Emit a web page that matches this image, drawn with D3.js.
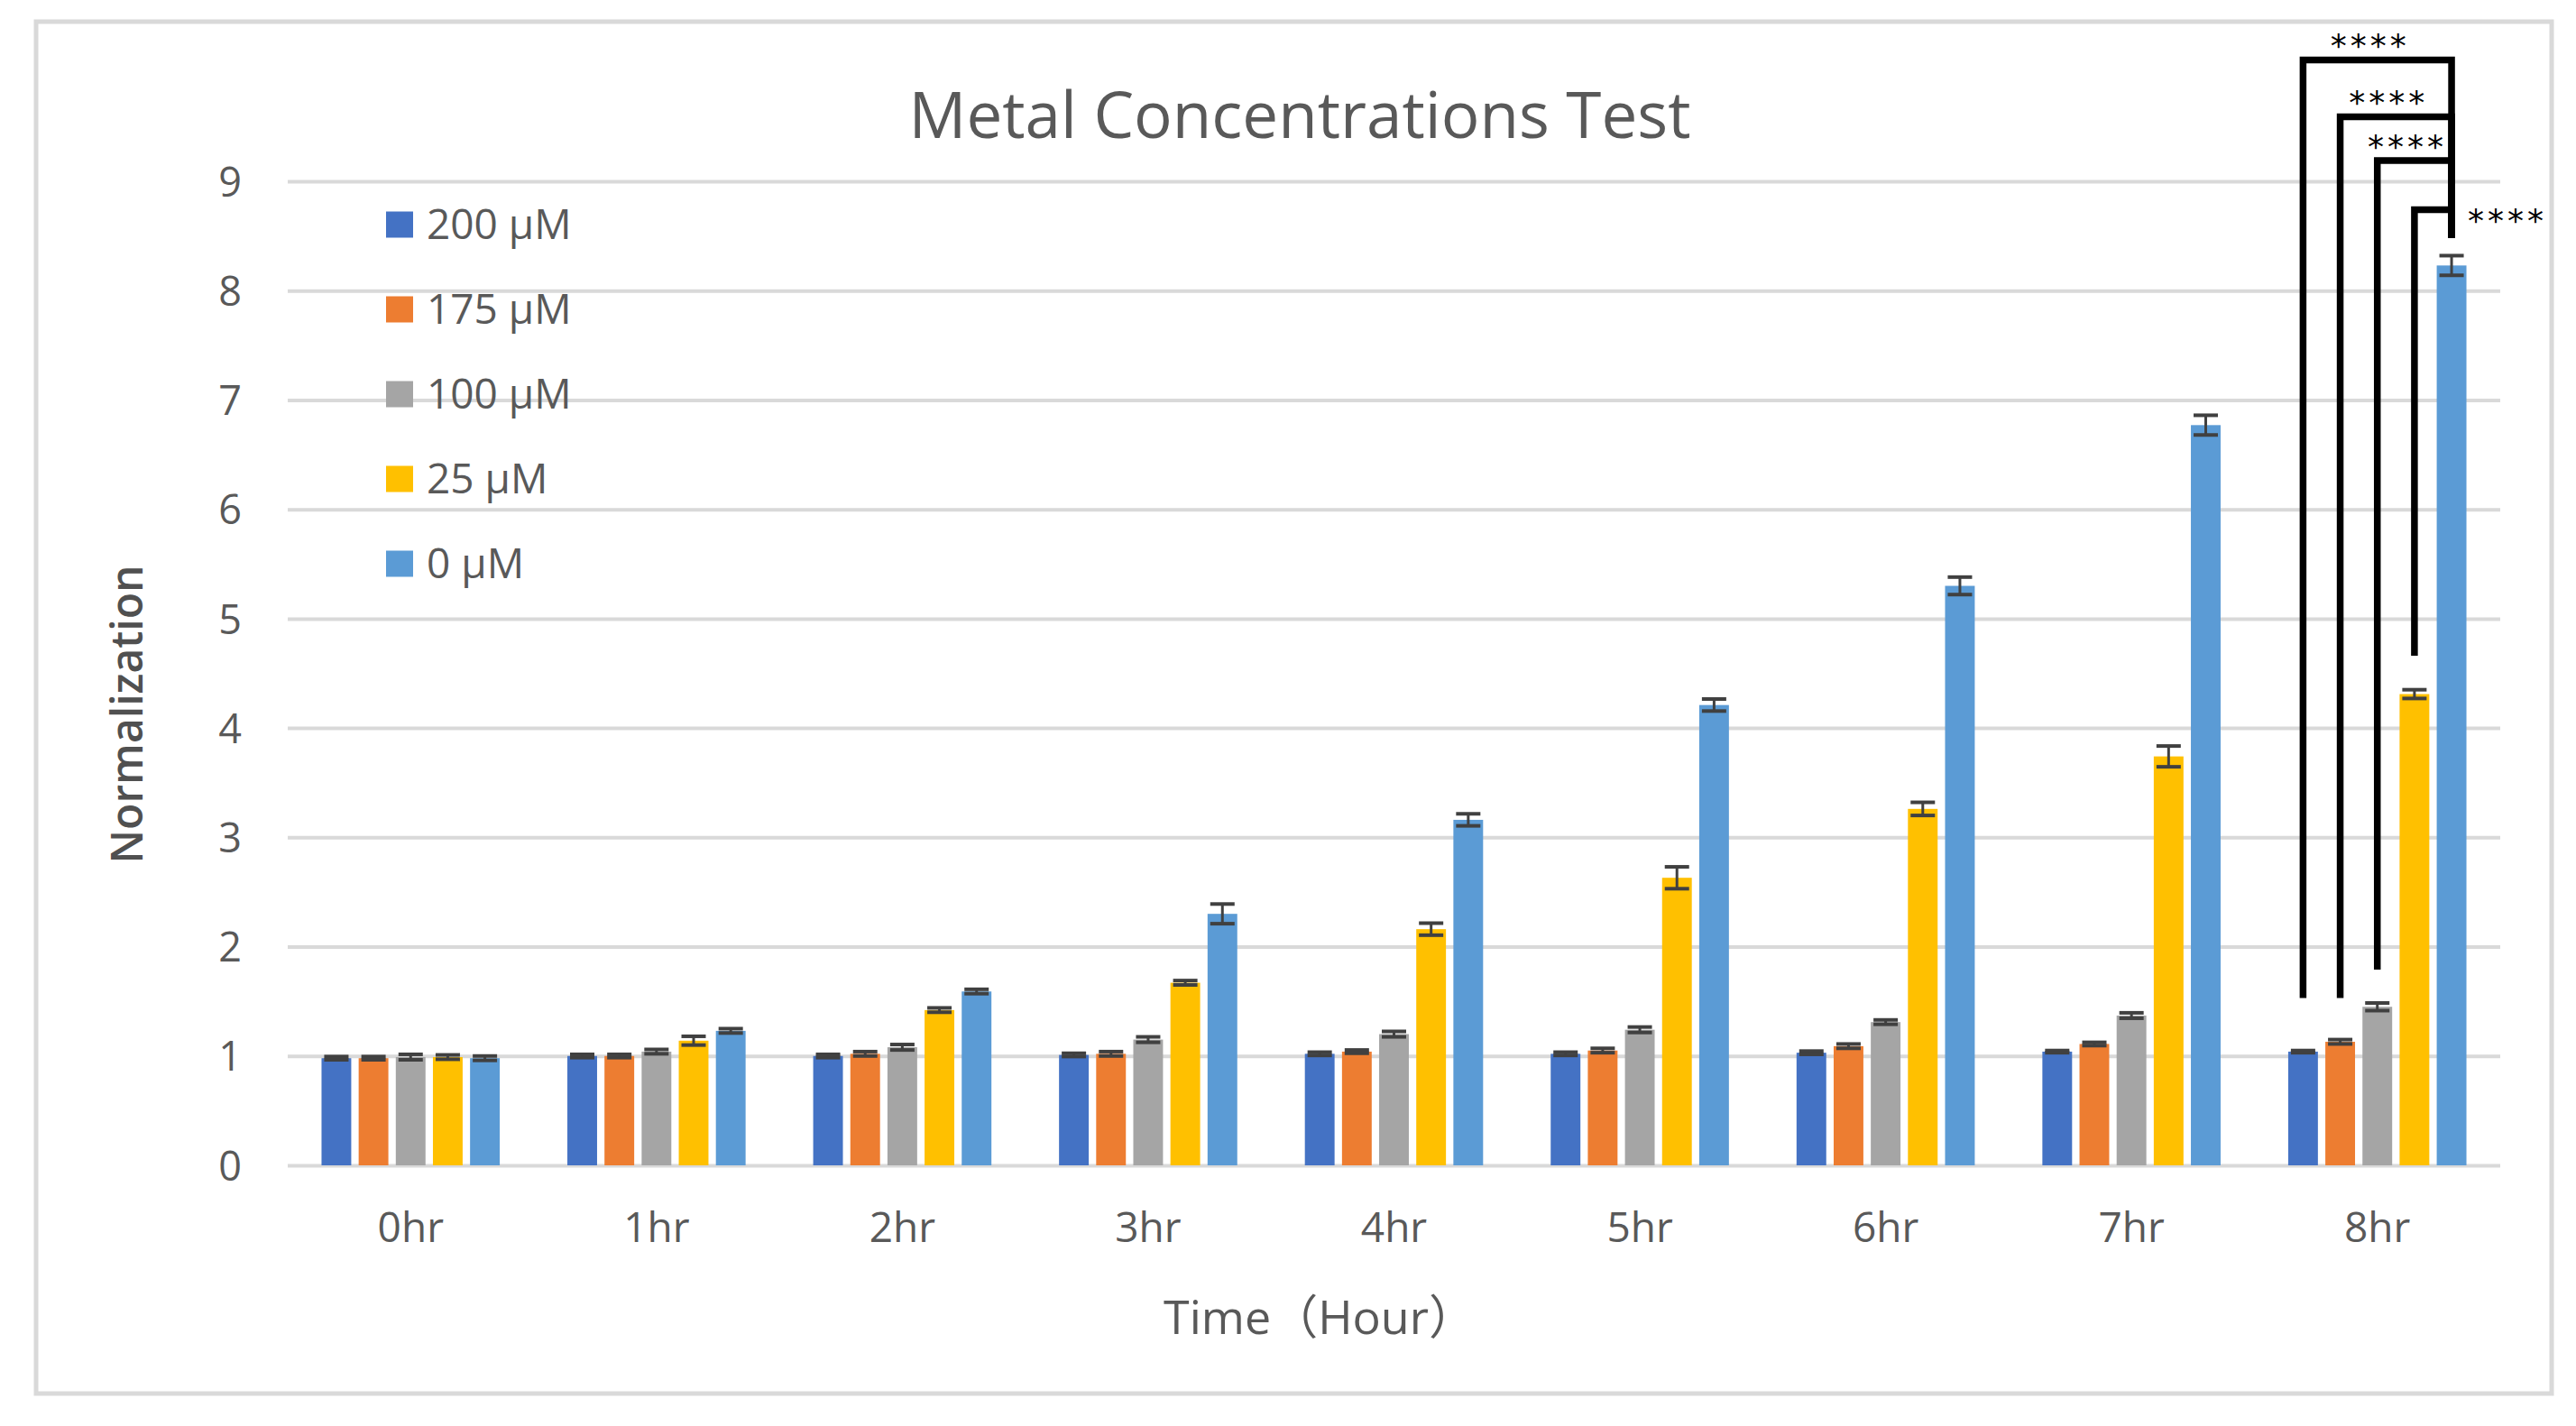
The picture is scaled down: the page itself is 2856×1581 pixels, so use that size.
<!DOCTYPE html>
<html>
<head>
<meta charset="utf-8">
<script src="https://cdn.jsdelivr.net/npm/d3@7"></script>
<style>
  html, body { margin: 0; padding: 0; background: #ffffff; }
  svg { display: block; }
</style>
</head>
<body>
<svg id="chart" width="2856" height="1581"></svg>
<script>
// ---------------- data ----------------
const categories = ["0hr", "1hr", "2hr", "3hr", "4hr", "5hr", "6hr", "7hr", "8hr"];
const seriesNames = ["200 μM", "175 μM", "100 μM", "25 μM", "0 μM"];
const seriesColors = ["#4472C4", "#ED7D31", "#A5A5A5", "#FFC000", "#5B9BD5"];

const values200 = [0.98, 1.00, 1.00, 1.01, 1.02, 1.02, 1.03, 1.04, 1.04];
const values175 = [0.98, 1.00, 1.02, 1.02, 1.04, 1.05, 1.09, 1.11, 1.13];
const values100 = [0.99, 1.04, 1.08, 1.15, 1.20, 1.24, 1.31, 1.37, 1.45];
const values25  = [0.99, 1.14, 1.42, 1.67, 2.16, 2.63, 3.26, 3.74, 4.31];
const values0   = [0.98, 1.23, 1.59, 2.30, 3.16, 4.21, 5.30, 6.77, 8.23];

const err200 = [0.015, 0.015, 0.015, 0.015, 0.015, 0.015, 0.015, 0.01, 0.01];
const err175 = [0.015, 0.015, 0.02, 0.02, 0.015, 0.02, 0.02, 0.015, 0.02];
const err100 = [0.025, 0.02, 0.025, 0.025, 0.025, 0.025, 0.02, 0.025, 0.035];
const err25  = [0.02, 0.04, 0.02, 0.02, 0.055, 0.10, 0.06, 0.095, 0.04];
const err0   = [0.02, 0.02, 0.02, 0.09, 0.055, 0.055, 0.08, 0.09, 0.09];

const yTicks = [0, 1, 2, 3, 4, 5, 6, 7, 8, 9];

const chartTitle = "Metal Concentrations Test";
const xTitle = "Time（Hour）";
const yTitle = "Normalization";

// significance annotations at 8hr (each compared with 0 μM)
const sigCategory = "8hr";
const sigFrom = ["200 μM", "175 μM", "100 μM", "25 μM"];
const sigTo = "0 μM";
const sigLabels = ["****", "****", "****", "****"];
const sigLevels = [10.11, 9.59, 9.19, 8.74];   // bracket heights (data units)
const sigStarts = [1.53, 1.53, 1.79, 4.66];    // bottom of left legs
const sigEnd = 8.48;                          // bottom of the shared right leg

// ---------------- drawing ----------------
const valuesBySeries = [values200, values175, values100, values25, values0];
const errBySeries = [err200, err175, err100, err25, err0];

const svg = d3.select("#chart");
const FONT = "'Open Sans', 'Noto Sans CJK SC', sans-serif";
const TEXT = "#595959";

const plot = { left: 319, right: 2772, top: 201, bottom: 1292 };

// chart border
svg.append("rect")
  .attr("x", 40).attr("y", 24)
  .attr("width", 2789).attr("height", 1521)
  .attr("fill", "#ffffff")
  .attr("stroke", "#d9d9d9").attr("stroke-width", 5);

const x0 = d3.scaleBand().domain(categories)
  .range([plot.left, plot.right])
  .paddingInner(0.275).paddingOuter(0.1375);
const x1 = d3.scaleBand().domain(seriesNames)
  .range([0, x0.bandwidth()])
  .paddingInner(0.2).paddingOuter(0);
const y = d3.scaleLinear().domain([0, 9]).range([plot.bottom, plot.top]);
const color = d3.scaleOrdinal().domain(seriesNames).range(seriesColors);

// y axis with gridlines
const yAxis = svg.append("g")
  .attr("transform", `translate(${plot.left},0)`)
  .call(d3.axisLeft(y).tickValues(yTicks).tickFormat(d3.format("d"))
    .tickSize(-(plot.right - plot.left)).tickPadding(51));
yAxis.select(".domain").remove();
yAxis.selectAll(".tick line").attr("stroke", "#d9d9d9").attr("stroke-width", 4);
yAxis.selectAll(".tick text")
  .attr("fill", TEXT).style("font-family", FONT).style("font-size", "45px")
  .attr("dy", "0.36em");

// x axis labels
const xAxis = svg.append("g")
  .attr("transform", `translate(0,${plot.bottom})`)
  .call(d3.axisBottom(x0).tickSize(0).tickPadding(0));
xAxis.select(".domain").remove();
xAxis.selectAll(".tick text")
  .attr("fill", TEXT).style("font-family", FONT).style("font-size", "46px")
  .attr("y", 85).attr("dy", 0);

// bars
const rows = [];
seriesNames.forEach((s, si) => {
  categories.forEach((c, ci) => {
    rows.push({ series: s, cat: c, value: valuesBySeries[si][ci], err: errBySeries[si][ci] });
  });
});

svg.append("g").selectAll("rect")
  .data(rows).join("rect")
  .attr("x", d => x0(d.cat) + x1(d.series))
  .attr("y", d => y(d.value))
  .attr("width", x1.bandwidth())
  .attr("height", d => y(0) - y(d.value))
  .attr("fill", d => color(d.series));

// error bars
const capW = 27;
const eb = svg.append("g").attr("stroke", "#404040");
const cx = d => x0(d.cat) + x1(d.series) + x1.bandwidth() / 2;
eb.selectAll("line.v").data(rows).join("line").attr("class", "v")
  .attr("x1", cx).attr("x2", cx)
  .attr("y1", d => y(d.value - d.err)).attr("y2", d => y(d.value + d.err))
  .attr("stroke-width", 3);
eb.selectAll("line.t").data(rows).join("line").attr("class", "t")
  .attr("x1", d => cx(d) - capW / 2).attr("x2", d => cx(d) + capW / 2)
  .attr("y1", d => y(d.value + d.err)).attr("y2", d => y(d.value + d.err))
  .attr("stroke-width", 4);
eb.selectAll("line.b").data(rows).join("line").attr("class", "b")
  .attr("x1", d => cx(d) - capW / 2).attr("x2", d => cx(d) + capW / 2)
  .attr("y1", d => y(d.value - d.err)).attr("y2", d => y(d.value - d.err))
  .attr("stroke-width", 4);

// significance brackets
const barCenter = s => x0(sigCategory) + x1(s) + x1.bandwidth() / 2;
const xr = barCenter(sigTo);
const sig = svg.append("g");
sigFrom.forEach((s, i) => {
  const xl = barCenter(s);
  const path = d3.path();
  path.moveTo(xl, y(sigStarts[i]));
  path.lineTo(xl, y(sigLevels[i]));
  path.lineTo(xr, y(sigLevels[i]));
  path.lineTo(xr, y(sigEnd));
  sig.append("path").attr("d", path.toString())
    .attr("fill", "none").attr("stroke", "#000000")
    .attr("stroke-width", 7.5).attr("stroke-linejoin", "miter");

  const t = sig.append("text").text(sigLabels[i])
    .style("font-family", "'DejaVu Sans', sans-serif")
    .style("font-size", "36px")
    .style("letter-spacing", "4px")
    .attr("fill", "#000000");
  const span = xr - xl;
  if (span > 60) {
    t.attr("x", (xl + xr) / 2 - 8).attr("y", y(sigLevels[i]) - 3).attr("text-anchor", "middle");
  } else {
    t.attr("x", xr + 18).attr("y", y(sigLevels[i]) + 24).attr("text-anchor", "start");
  }
});

// legend
const legend = svg.append("g");
seriesNames.forEach((s, i) => {
  const cy = 249 + i * 94;
  legend.append("rect")
    .attr("x", 428).attr("y", cy - 14.5)
    .attr("width", 30).attr("height", 29)
    .attr("fill", color(s));
  legend.append("text")
    .attr("x", 473).attr("y", cy + 16)
    .attr("fill", TEXT).style("font-family", FONT).style("font-size", "46px")
    .text(s);
});

// titles
svg.append("text")
  .attr("x", 1441).attr("y", 153)
  .attr("text-anchor", "middle")
  .attr("fill", TEXT).style("font-family", FONT).style("font-size", "71px")
  .text(chartTitle);

svg.append("text")
  .attr("transform", "translate(158,792) rotate(-90)")
  .attr("text-anchor", "middle")
  .attr("fill", "#505050").style("font-family", FONT).style("font-size", "48px")
  .style("font-weight", 600)
  .text(yTitle);

svg.append("text")
  .attr("x", 1463).attr("y", 1479)
  .attr("text-anchor", "middle")
  .attr("fill", TEXT).style("font-family", FONT).style("font-size", "52px")
  .text(xTitle);
</script>
</body>
</html>
